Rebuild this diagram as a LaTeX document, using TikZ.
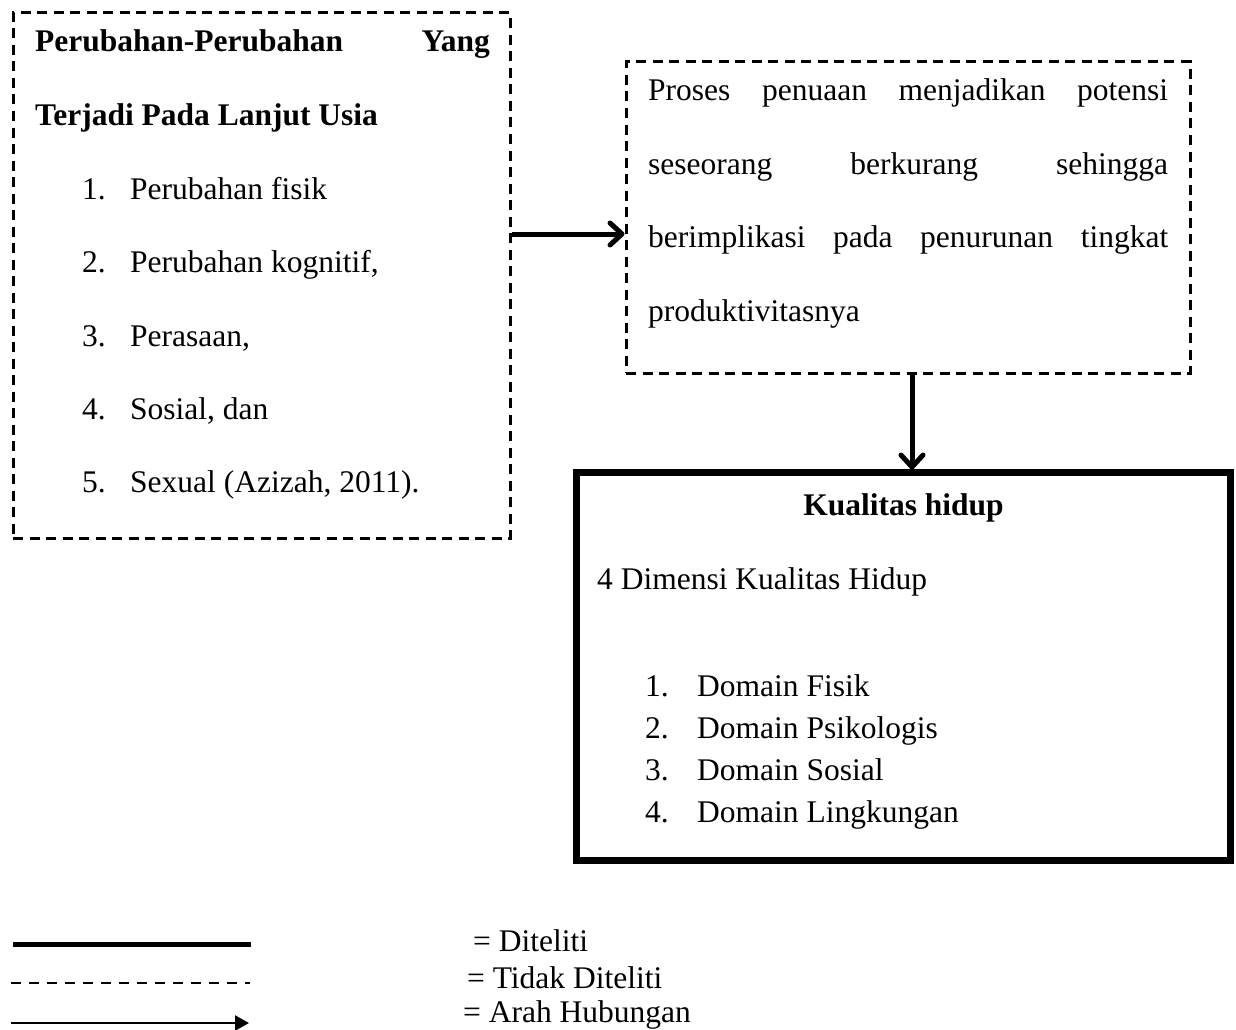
\documentclass[tikz,border=0pt]{standalone}
\usepackage{fontspec}
\setmainfont{Liberation Serif}
\usetikzlibrary{arrows.meta}
\begin{document}
\begin{tikzpicture}[x=1pt,y=-1pt,
  dbox/.style={draw, line width=3pt, dash pattern=on 10pt off 6.5pt, inner sep=0pt},
  sbox/.style={draw, line width=7pt, inner sep=0pt},
  txt/.style={anchor=base west, inner sep=0pt, font=\fontsize{31.5}{36}\selectfont},
  txtc/.style={anchor=base, inner sep=0pt, font=\fontsize{31.5}{36}\selectfont},
  txte/.style={anchor=base east, inner sep=0pt, font=\fontsize{31.5}{36}\selectfont},
  arr/.style={line width=5pt, -{Straight Barb[length=12pt,width=22pt,line cap=round,line join=round]}},
  legarr/.style={line width=2.5pt, -{Triangle[length=14pt,width=15pt]}}
]
\useasboundingbox (0,0) rectangle (1236,1030);

% boxes
\node[dbox, minimum width=497pt, minimum height=525pt] (left) at (261.5,275.5) {};
\node[dbox, minimum width=564pt, minimum height=311pt] (right) at (908,217.5) {};
\node[sbox, minimum width=654pt, minimum height=388pt] (kual) at (903,666) {};

% left box text
\node[txt] (l0a) at (35,52) {\bfseries Perubahan-Perubahan};
\node[txte] (l0b) at (490,52) {\bfseries Yang};
\node[txt] (l1) at (35,126) {\bfseries Terjadi Pada Lanjut Usia};
\node[txt] (n1) at (82,199) {1.};
\node[txt] (t1) at (130,199) {Perubahan fisik};
\node[txt] (n2) at (82,272) {2.};
\node[txt] (t2) at (130,272) {Perubahan kognitif,};
\node[txt] (n3) at (82,346) {3.};
\node[txt] (t3) at (130,346) {Perasaan,};
\node[txt] (n4) at (82,419) {4.};
\node[txt] (t4) at (130,419) {Sosial, dan};
\node[txt] (n5) at (82,492) {5.};
\node[txt] (t5) at (130,492) {Sexual (Azizah, 2011).};

% right box text
\node[txt] (r1) at (648,101) {\makebox[520pt][s]{Proses penuaan menjadikan potensi}};
\node[txt] (r2) at (648,174) {\makebox[520pt][s]{seseorang berkurang sehingga}};
\node[txt] (r3) at (648,247) {\makebox[520pt][s]{berimplikasi pada penurunan tingkat}};
\node[txt] (r4) at (648,321) {produktivitasnya};

% kualitas box text
\node[txtc] (k0) at (903.5,515) {\bfseries Kualitas hidup};
\node[txt] (k1) at (597,589) {4 Dimensi Kualitas Hidup};
\node[txt] (kn1) at (645,696) {1.};
\node[txt] (kt1) at (697,696) {Domain Fisik};
\node[txt] (kn2) at (645,738) {2.};
\node[txt] (kt2) at (697,738) {Domain Psikologis};
\node[txt] (kn3) at (645,780) {3.};
\node[txt] (kt3) at (697,780) {Domain Sosial};
\node[txt] (kn4) at (645,822) {4.};
\node[txt] (kt4) at (697,822) {Domain Lingkungan};

% connectors
\coordinate (ay) at (0,234);
\draw[arr] (left.east |- ay) -- (right.west |- ay);
\coordinate (ax) at (912,0);
\draw[arr] (right.south -| ax) -- ([yshift=-1pt]kual.north -| ax);

% legend
\coordinate (la1) at (13,944);
\coordinate (lb1) at (251,944);
\coordinate (la2) at (11,983);
\coordinate (lb2) at (250,983);
\coordinate (la3) at (11,1023);
\coordinate (lb3) at (249,1023);
\draw[line width=5pt] (la1) -- (lb1);
\draw[line width=2.5pt, dash pattern=on 10pt off 8pt] (la2) -- (lb2);
\draw[legarr] (la3) -- (lb3);
\node[txt] (g1) at (473,951) {= Diteliti};
\node[txt] (g2) at (467,988) {= Tidak Diteliti};
\node[txt] (g3) at (463,1022) {= Arah Hubungan};
\end{tikzpicture}
\end{document}
